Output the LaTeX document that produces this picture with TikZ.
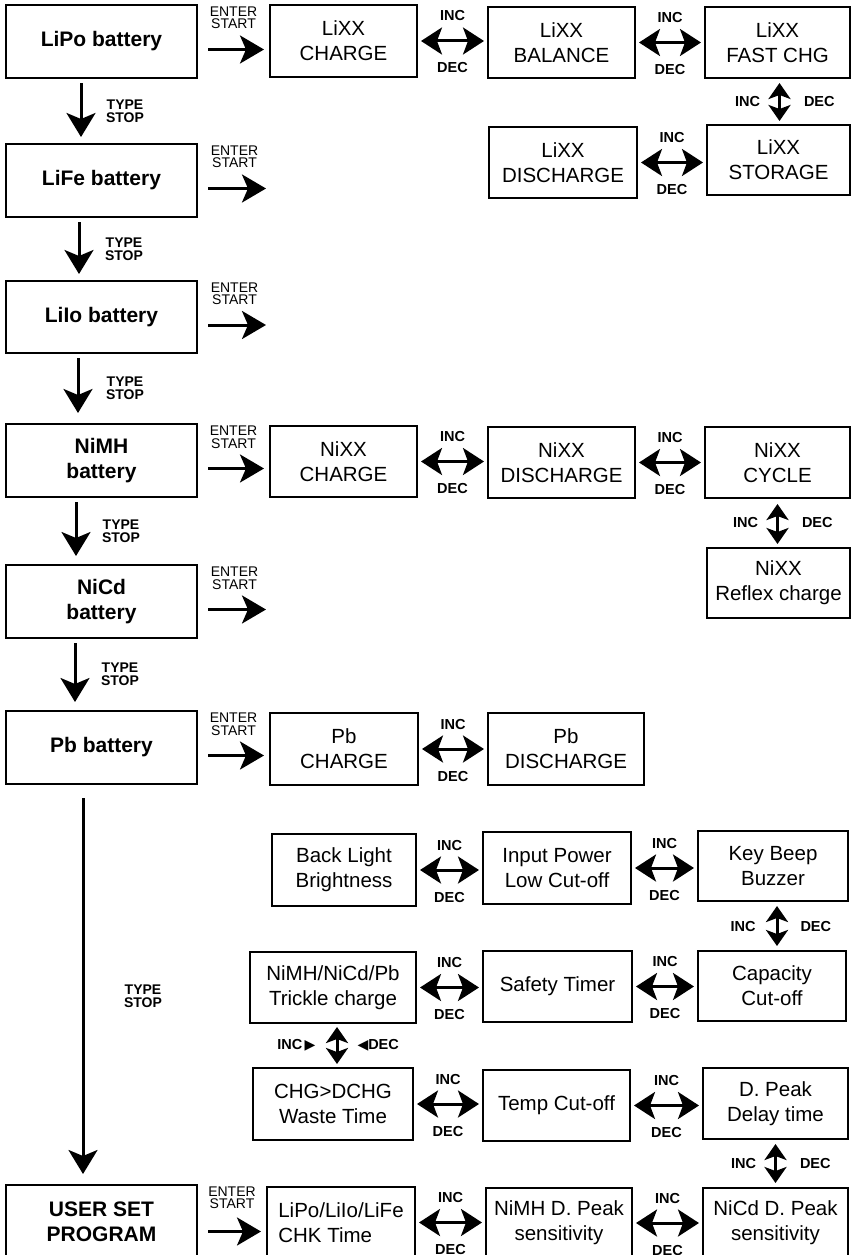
\documentclass[tikz,border=0pt]{standalone}
\usepackage{fontspec}
\setmainfont{Liberation Sans}
\newfontfamily\symf{DejaVu Sans}
\usetikzlibrary{arrows.meta}
\newcommand\mybox[7][]{\node[box,#1,minimum width={(#5-#3)*1pt},minimum height={(#6-#4)*1pt}] (#2) at ({(#3+#5)/2},{(#4+#6)/2}) {#7};}
\begin{document}
\begin{tikzpicture}[x=1pt,y=-1pt,
  box/.style={draw,line width=2pt,align=center,inner sep=0pt,font=\fontsize{20.5}{25}\selectfont},
  bbox/.style={font=\bfseries\fontsize{21}{25}\selectfont},
  harrow/.style={line width=3pt,-{Stealth[length=24pt,width=28pt,inset=6pt]}},
  darrow/.style={line width=3pt,{Stealth[length=21pt,width=27pt,inset=5pt]}-{Stealth[length=21pt,width=27pt,inset=5pt]}},
  varrow/.style={line width=3pt,{Stealth[length=16pt,width=22pt,inset=4pt]}-{Stealth[length=16pt,width=22pt,inset=4pt]}},
  downarrow/.style={line width=3pt,-{Stealth[length=24pt,width=29pt,inset=6pt]}},
  lbl/.style={font=\fontsize{14}{12.5}\selectfont,align=center,inner sep=0pt},
  tlbl/.style={font=\bfseries\fontsize{14}{13}\selectfont,align=center,inner sep=0pt},
  ilbl/.style={font=\bfseries\fontsize{14.5}{14}\selectfont,inner sep=0pt}]
\useasboundingbox (0,0) rectangle (852,1255);
\clip (0,0) rectangle (852,1255);

% left column
\mybox[bbox]{lipo}{6}{5}{197}{78}{LiPo battery}
\mybox[bbox]{life}{6}{144}{197}{217}{LiFe battery}
\mybox[bbox]{liio}{6}{281}{197}{353}{LiIo battery}
\mybox[bbox]{nimh}{6}{424}{197}{497}{NiMH\\battery}
\mybox[bbox]{nicd}{6}{565}{197}{638}{NiCd\\battery}
\mybox[bbox]{pb}{6}{711}{197}{784}{Pb battery}
\mybox[bbox]{user}{6}{1185}{197}{1258}{USER SET\\PROGRAM}

% Li row
\mybox{lch}{270}{5}{417}{77}{LiXX\\CHARGE}
\mybox{lbal}{488}{7}{635}{78}{LiXX\\BALANCE}
\mybox{lfast}{705}{7}{850}{78}{LiXX\\FAST CHG}
\mybox{lstor}{707}{125}{850}{195}{LiXX\\STORAGE}
\mybox{ldis}{489}{127}{637}{198}{LiXX\\DISCHARGE}

% Ni row
\mybox{nch}{270}{426}{417}{497}{NiXX\\CHARGE}
\mybox{ndis}{488}{427}{635}{498}{NiXX\\DISCHARGE}
\mybox{ncyc}{705}{427}{850}{498}{NiXX\\CYCLE}
\mybox{nref}{707}{548}{850}{618}{NiXX\\Reflex charge}

% Pb row
\mybox{pch}{270}{713}{418}{785}{Pb\\CHARGE}
\mybox{pdis}{488}{713}{644}{785}{Pb\\DISCHARGE}

% user settings
\mybox{back}{272}{834}{416}{906}{Back Light\\Brightness}
\mybox{inpow}{483}{832}{631}{904}{Input Power\\Low Cut-off}
\mybox{beep}{698}{831}{848}{901}{Key Beep\\Buzzer}
\mybox{trick}{250}{952}{416}{1023}{NiMH/NiCd/Pb\\Trickle charge}
\mybox{safe}{483}{951}{632}{1022}{Safety Timer}
\mybox{cap}{698}{951}{846}{1021}{Capacity\\Cut-off}
\mybox{waste}{253}{1068}{413}{1140}{CHG>DCHG\\Waste Time}
\mybox{temp}{483}{1070}{630}{1141}{Temp Cut-off}
\mybox{dpk}{703}{1068}{848}{1139}{D. Peak\\Delay time}
\mybox[align=left]{chk}{267}{1187}{415}{1258}{LiPo/LiIo/LiFe\\CHK Time}
\mybox{nimhdp}{486}{1188}{632}{1258}{NiMH D. Peak\\sensitivity}
\mybox{nicddp}{703}{1188}{848}{1258}{NiCd D. Peak\\sensitivity}

% TYPE/STOP down arrows
\draw[downarrow,shorten <=4pt,shorten >=6pt] (lipo.south -| 81,0) -- (life.north -| 81,0) node[midway,tlbl,xshift=44pt]{TYPE\\STOP};
\draw[downarrow,shorten <=4pt,shorten >=6pt] (life.south -| 79,0) -- (liio.north -| 79,0) node[midway,tlbl,xshift=45pt]{TYPE\\STOP};
\draw[downarrow,shorten <=4pt,shorten >=10pt] (liio.south -| 78,0) -- (nimh.north -| 78,0) node[midway,tlbl,xshift=47pt]{TYPE\\STOP};
\draw[downarrow,shorten <=4pt,shorten >=8pt] (nimh.south -| 76,0) -- (nicd.north -| 76,0) node[midway,tlbl,xshift=45pt]{TYPE\\STOP};
\draw[downarrow,shorten <=4pt,shorten >=8pt] (nicd.south -| 75,0) -- (pb.north -| 75,0) node[midway,tlbl,xshift=45pt]{TYPE\\STOP};
\draw[downarrow,shorten <=13pt,shorten >=10pt] (pb.south -| 83,0) -- (user.north -| 83,0) node[pos=0.53,tlbl,xshift=60pt]{TYPE\\STOP};

% ENTER/START arrows
\path ([yshift=-8pt]life.east) ++(73,0) coordinate (lifeo);
\path ([yshift=-8pt]liio.east) ++(73,0) coordinate (liioo);
\path ([yshift=-8pt]nicd.east) ++(73,0) coordinate (nicdo);
\draw[harrow,shorten <=10pt,shorten >=5pt] ([yshift=-8pt]lipo.east) -- ([yshift=-8pt]lipo.east -| lch.west) node[midway,lbl,yshift=31.5pt]{ENTER\\START};
\draw[harrow,shorten <=10pt,shorten >=5pt] ([yshift=-8pt]life.east) -- (lifeo) node[midway,lbl,yshift=31.5pt]{ENTER\\START};
\draw[harrow,shorten <=10pt,shorten >=5pt] ([yshift=-8pt]liio.east) -- (liioo) node[midway,lbl,yshift=31.5pt]{ENTER\\START};
\draw[harrow,shorten <=10pt,shorten >=5pt] ([yshift=-8pt]nimh.east) -- ([yshift=-8pt]nimh.east -| nch.west) node[midway,lbl,yshift=31.5pt]{ENTER\\START};
\draw[harrow,shorten <=10pt,shorten >=5pt] ([yshift=-8pt]nicd.east) -- (nicdo) node[midway,lbl,yshift=31.5pt]{ENTER\\START};
\draw[harrow,shorten <=10pt,shorten >=5pt] ([yshift=-8pt]pb.east) -- ([yshift=-8pt]pb.east -| pch.west) node[midway,lbl,yshift=31.5pt]{ENTER\\START};
\draw[harrow,shorten <=10pt,shorten >=5pt] ([yshift=-10pt]user.east) -- ([yshift=-10pt]user.east -| chk.west) node[midway,lbl,yshift=34pt]{ENTER\\START};

% horizontal INC/DEC arrows
\foreach \a/\b in {lch/lbal,lbal/lfast,ldis/lstor,nch/ndis,ndis/ncyc,pch/pdis,back/inpow,inpow/beep,trick/safe,safe/cap,waste/temp,temp/dpk,chk/nimhdp,nimhdp/nicddp}{
  \draw[darrow,shorten <=3pt,shorten >=3pt] (\a.east) -- (\a.east -| \b.west)
    node[midway,ilbl,yshift=25pt]{INC} node[midway,ilbl,yshift=-27pt]{DEC};
}

% vertical INC/DEC arrows
\draw[varrow,shorten <=4pt,shorten >=3pt] ([xshift=2pt]lfast.south) -- ([xshift=2pt]lfast.south |- lstor.north)
  node[midway,ilbl,anchor=east,xshift=-18pt]{INC} node[midway,ilbl,anchor=west,xshift=23pt]{DEC};
\draw[varrow,shorten <=5pt,shorten >=3pt] (ncyc.south) -- (ncyc.south |- nref.north)
  node[midway,ilbl,anchor=east,xshift=-18pt]{INC} node[midway,ilbl,anchor=west,xshift=23pt]{DEC};
\draw[varrow,shorten <=4pt,shorten >=4pt] ([xshift=4pt]beep.south) -- ([xshift=4pt]beep.south |- cap.north)
  node[midway,ilbl,anchor=east,xshift=-20pt]{INC} node[midway,ilbl,anchor=west,xshift=22pt]{DEC};
\draw[varrow,shorten <=4pt,shorten >=4pt] (dpk.south) -- (dpk.south |- nicddp.north)
  node[midway,ilbl,anchor=east,xshift=-18pt]{INC} node[midway,ilbl,anchor=west,xshift=23pt]{DEC};
\draw[varrow,shorten <=3pt,shorten >=3pt] ([xshift=4pt]trick.south) -- ([xshift=4pt]trick.south |- waste.north)
  node[midway,ilbl,anchor=east,xshift=-20pt]{INC\,{\symf\fontsize{14}{14}\selectfont ▶}}
  node[midway,ilbl,anchor=west,xshift=19pt]{{\symf\fontsize{14}{14}\selectfont ◀}DEC};
\end{tikzpicture}
\end{document}
